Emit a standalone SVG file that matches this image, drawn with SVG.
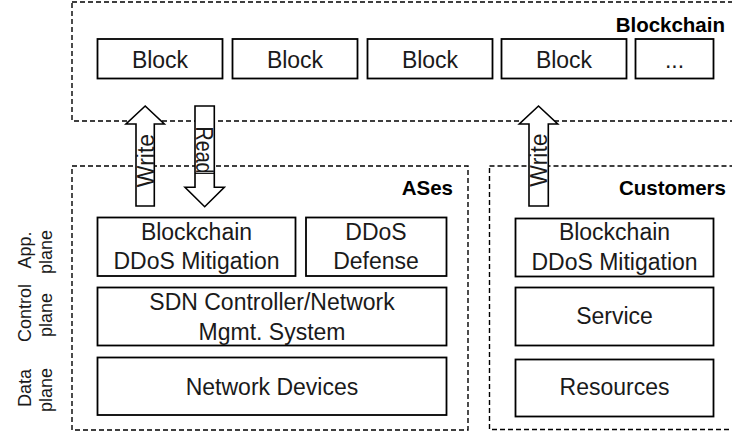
<svg xmlns="http://www.w3.org/2000/svg" width="732" height="432" viewBox="0 0 732 432">
<style>
.grp{fill:none;stroke:#000;stroke-width:1.4;stroke-dasharray:5,3}
.box{fill:#fff;stroke:#000;stroke-width:1.8}
.t{font-family:"Liberation Sans",Arial,sans-serif;font-size:23px;fill:#1a1a1a;text-anchor:middle}
.h{font-family:"Liberation Sans",Arial,sans-serif;font-size:20.5px;font-weight:bold;fill:#000;text-anchor:end}
.l{font-family:"Liberation Sans",Arial,sans-serif;font-size:18px;fill:#1a1a1a;text-anchor:middle}
.arr{fill:#fff;stroke:#000;stroke-width:1.6;stroke-linejoin:miter}
</style>
<rect width="732" height="432" fill="#fff"/>

<g id="blockchain">
<rect class="grp" x="72" y="2" width="680" height="119"/>
<text class="h" x="725" y="31.5">Blockchain</text>
</g>
<g id="block1"><rect class="box" x="97.5" y="39" width="125" height="39.5"/><text class="t" x="160" y="67.5">Block</text></g>
<g id="block2"><rect class="box" x="232.5" y="39" width="125" height="39.5"/><text class="t" x="295" y="67.5">Block</text></g>
<g id="block3"><rect class="box" x="367.5" y="39" width="125" height="39.5"/><text class="t" x="430" y="67.5">Block</text></g>
<g id="block4"><rect class="box" x="501.5" y="39" width="125" height="39.5"/><text class="t" x="564" y="67.5">Block</text></g>
<g id="block-more"><rect class="box" x="635.5" y="39" width="78" height="39.5"/><text class="t" x="674.5" y="67.5">...</text></g>

<g id="ases">
<rect class="grp" x="72" y="166" width="396" height="264"/>
<text class="h" x="453" y="195">ASes</text>
</g>
<g id="ases-bdm"><rect class="box" x="97.5" y="217.5" width="198" height="58.5"/><text class="t" x="196.5" y="239.5">Blockchain</text><text class="t" x="196.5" y="269">DDoS Mitigation</text></g>
<g id="ases-defense"><rect class="box" x="306" y="217.5" width="140.5" height="58.5"/><text class="t" x="376" y="239.5">DDoS</text><text class="t" x="376" y="269">Defense</text></g>
<g id="ases-sdn"><rect class="box" x="97.5" y="287.5" width="349" height="58"/><text class="t" x="272" y="309.5">SDN Controller/Network</text><text class="t" x="272" y="339.5">Mgmt. System</text></g>
<g id="ases-devices"><rect class="box" x="97.5" y="357.5" width="349" height="57.5"/><text class="t" x="272" y="394.5">Network Devices</text></g>

<g id="customers">
<rect class="grp" x="489.5" y="166" width="260" height="263.5"/>
<text class="h" x="726" y="195">Customers</text>
</g>
<g id="cust-bdm"><rect class="box" x="515.5" y="218.5" width="198" height="58"/><text class="t" x="614.5" y="240">Blockchain</text><text class="t" x="614.5" y="270">DDoS Mitigation</text></g>
<g id="cust-service"><rect class="box" x="515.5" y="287.5" width="198" height="58"/><text class="t" x="614.5" y="324">Service</text></g>
<g id="cust-resources"><rect class="box" x="515.5" y="359.5" width="198" height="57"/><text class="t" x="614.5" y="395">Resources</text></g>

<g id="plane-labels">
<text class="l" transform="translate(31,250) rotate(-90)">App.</text>
<text class="l" transform="translate(51.5,252) rotate(-90)">plane</text>
<text class="l" transform="translate(31,313) rotate(-90)">Control</text>
<text class="l" transform="translate(51.5,315) rotate(-90)">plane</text>
<text class="l" transform="translate(31,388) rotate(-90)">Data</text>
<text class="l" transform="translate(51.5,390) rotate(-90)">plane</text>
</g>

<g id="connectors">
<g id="write-ases">
<polygon class="arr" points="136,206 136,124 126,124 145.2,106 164.3,124 154.3,124 154.3,206"/>
<text class="t" transform="translate(153.5,160.5) rotate(-90)">Write</text>
</g>
<g id="read-ases">
<polygon class="arr" points="195,106 214.3,106 214.3,187.3 224.3,187.3 204.7,206.7 185,187.3 195,187.3"/>
<text class="t" transform="translate(196,150) rotate(90)" textLength="47" lengthAdjust="spacingAndGlyphs">Read</text>
<line x1="195" y1="173.3" x2="214.3" y2="173.3" stroke="#000" stroke-width="1.2"/>
</g>
<g id="write-customers">
<polygon class="arr" points="529,206 529,124 519.3,124 538.5,106 557.7,124 548.3,124 548.3,206"/>
<text class="t" transform="translate(547,160) rotate(-90)">Write</text>
</g>
</g>
</svg>
